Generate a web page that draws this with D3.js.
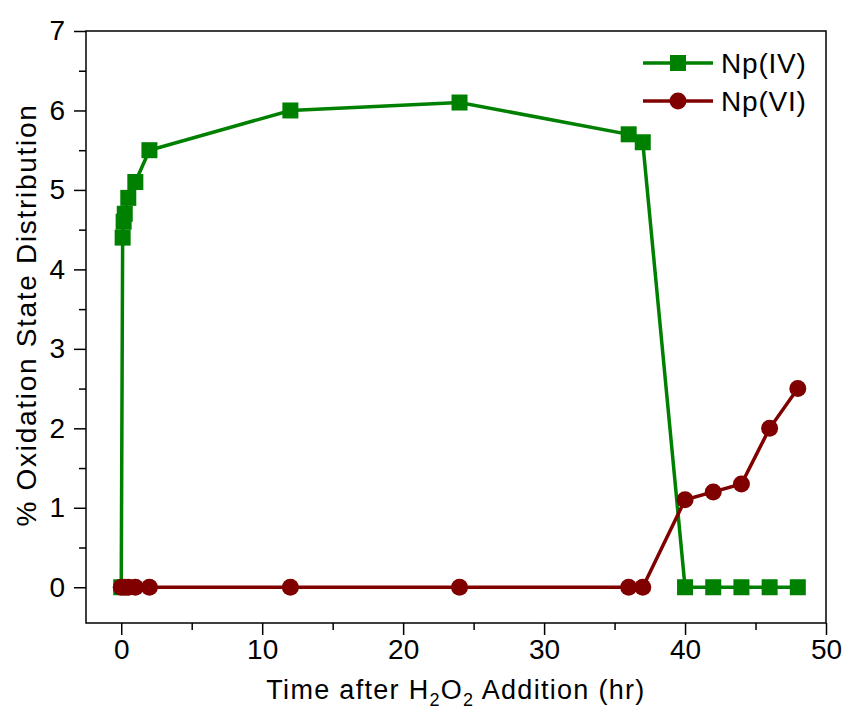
<!DOCTYPE html>
<html>
<head>
<meta charset="utf-8">
<script src="https://cdn.jsdelivr.net/npm/d3@7"></script>
<style>
  body { margin: 0; background: #fff; }
  text { font-family: "Liberation Sans", Arial, sans-serif; }
</style>
</head>
<body>
<div id="chart"></div>
<script>
// Data
const timeIV = [0, 0.1, 0.17, 0.25, 0.5, 1, 2, 12, 24, 36, 37, 40, 42, 44, 46, 48];
const npIV   = [0, 4.4, 4.6, 4.7, 4.9, 5.1, 5.5, 6.0, 6.1, 5.7, 5.6, 0, 0, 0, 0, 0];
const timeVI = [0, 0.25, 0.5, 1, 2, 12, 24, 36, 37, 40, 42, 44, 46, 48];
const npVI   = [0, 0, 0, 0, 0, 0, 0, 0, 0, 1.1, 1.2, 1.3, 2.0, 2.5];
const xTicks = [0, 10, 20, 30, 40, 50];
const yTicks = [0, 1, 2, 3, 4, 5, 6, 7];

const W = 844, H = 713;
const margin = { top: 31, right: 18, bottom: 90, left: 86 };
const width = W - margin.left - margin.right;
const height = H - margin.top - margin.bottom;

const green = "#008000", red = "#800000";

const svg = d3.select("#chart").append("svg")
    .attr("width", W).attr("height", H);
const g = svg.append("g")
    .attr("transform", `translate(${margin.left},${margin.top})`);

// Scales
const x = d3.scaleLinear().domain([-2.5, 50]).range([0, width]);
const y = d3.scaleLinear().domain([-0.45, 7]).range([height, 0]);

// Frame
g.append("rect")
    .attr("width", width).attr("height", height)
    .attr("fill", "none").attr("stroke", "#000").attr("stroke-width", 1.5);

// Axes: major + minor ticks, outward
function styleAxis(sel) {
    sel.select(".domain").remove();
    sel.selectAll("line").attr("stroke", "#000").attr("stroke-width", 1.5);
    sel.selectAll("text").attr("font-size", 28).attr("fill", "#000");
}

g.append("g").attr("transform", `translate(0,${height})`)
    .call(d3.axisBottom(x).tickValues(d3.range(5, 50, 10)).tickSize(7).tickFormat(""))
    .call(styleAxis);
g.append("g").attr("transform", `translate(0,${height})`)
    .call(d3.axisBottom(x).tickValues(xTicks).tickSize(12).tickPadding(4))
    .call(styleAxis);

g.append("g")
    .call(d3.axisLeft(y).tickValues(d3.range(0.5, 7, 1)).tickSize(7).tickFormat(""))
    .call(styleAxis);
g.append("g")
    .call(d3.axisLeft(y).tickValues(yTicks).tickSize(12).tickPadding(9))
    .call(styleAxis);

// Axis titles
const xt = svg.append("text")
    .attr("x", 456).attr("y", 699)
    .attr("text-anchor", "middle").attr("font-size", 27)
    .attr("letter-spacing", 1.3).attr("fill", "#000");
xt.append("tspan").text("Time after H");
xt.append("tspan").attr("font-size", 18).attr("dy", 7).text("2");
xt.append("tspan").attr("dy", -7).text("O");
xt.append("tspan").attr("font-size", 18).attr("dy", 7).text("2");
xt.append("tspan").attr("dy", -7).text(" Addition (hr)");

svg.append("text")
    .attr("transform", `translate(36,315) rotate(-90)`)
    .attr("text-anchor", "middle").attr("font-size", 28)
    .attr("letter-spacing", 1.7).attr("fill", "#000")
    .text("% Oxidation State Distribution");

// Series
const dIV = timeIV.map((t, i) => ({ t, v: npIV[i] }));
const dVI = timeVI.map((t, i) => ({ t, v: npVI[i] }));
const line = d3.line().x(d => x(d.t)).y(d => y(d.v));

g.append("path").datum(dIV).attr("d", line)
    .attr("fill", "none").attr("stroke", green).attr("stroke-width", 3.5);
g.selectAll(".sq").data(dIV).enter().append("rect")
    .attr("class", "sq")
    .attr("x", d => x(d.t) - 8).attr("y", d => y(d.v) - 8)
    .attr("width", 16).attr("height", 16).attr("fill", green);

g.append("path").datum(dVI).attr("d", line)
    .attr("fill", "none").attr("stroke", red).attr("stroke-width", 3.5);
g.selectAll(".ci").data(dVI).enter().append("circle")
    .attr("class", "ci")
    .attr("cx", d => x(d.t)).attr("cy", d => y(d.v))
    .attr("r", 8.5).attr("fill", red);

// Legend
const legend = svg.append("g").attr("transform", "translate(643,63)");
const items = [
    { name: "Np(IV)", color: green, shape: "square" },
    { name: "Np(VI)", color: red, shape: "circle" }
];
items.forEach((it, i) => {
    const row = legend.append("g").attr("transform", `translate(0,${i * 38})`);
    row.append("line").attr("x1", 0).attr("x2", 70)
        .attr("stroke", it.color).attr("stroke-width", 3.5);
    if (it.shape === "square") {
        row.append("rect").attr("x", 27).attr("y", -8)
            .attr("width", 16).attr("height", 16).attr("fill", it.color);
    } else {
        row.append("circle").attr("cx", 35).attr("r", 8.5).attr("fill", it.color);
    }
    row.append("text").attr("x", 78).attr("y", 10)
        .attr("font-size", 28).attr("letter-spacing", 0.8)
        .attr("fill", "#000").text(it.name);
});
</script>
</body>
</html>
